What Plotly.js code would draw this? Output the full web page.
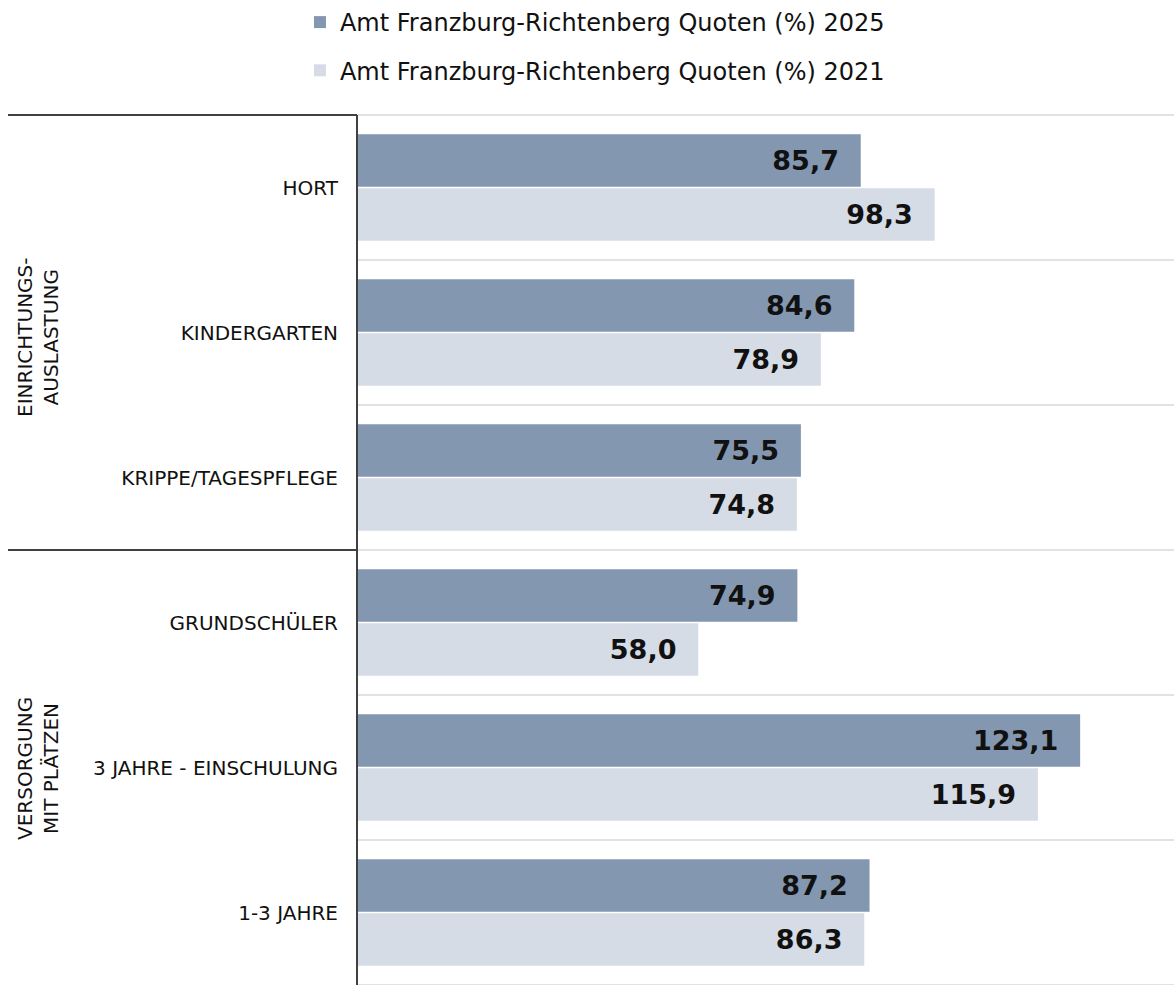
<!DOCTYPE html>
<html>
<head>
<meta charset="utf-8">
<script src="https://cdn.plot.ly/plotly-3.0.1.min.js"></script>
<style>html,body{margin:0;padding:0;background:#fff;}#chart{width:1174px;height:985px;}</style>
</head>
<body>
<div id="chart"></div>
<script>
const categories = ["HORT", "KINDERGARTEN", "KRIPPE/TAGESPFLEGE", "GRUNDSCHÜLER", "3 JAHRE - EINSCHULUNG", "1-3 JAHRE"];
const values2025 = [85.7, 84.6, 75.5, 74.9, 123.1, 87.2];
const values2021 = [98.3, 78.9, 74.8, 58.0, 115.9, 86.3];
const seriesNames = ["Amt Franzburg-Richtenberg Quoten (%) 2025", "Amt Franzburg-Richtenberg Quoten (%) 2021"];
const groupLabels = ["EINRICHTUNGS-<br>AUSLASTUNG", "VERSORGUNG<br>MIT PLÄTZEN"];

const FONT = "DejaVu Sans, sans-serif";
const LEFT = 358, W = 1174, TOP = 115, H = 985;
const plotW = W - LEFT, plotH = H - TOP;
const px = v => (v - LEFT) / plotW;
const py = v => 1 - (v - TOP) / plotH;

function barTrace(vals, name, color, grp) {
  return {
    type: "bar", orientation: "h",
    y: categories, x: vals, name: name, legendgroup: grp,
    marker: {color: color},
    texttemplate: "%{x:.1f}\u00a0\u00a0",
    textposition: "inside", insidetextanchor: "end",
    textfont: {family: FONT, size: 27, color: "#111", weight: "bold"},
    constraintext: "none",
    hoverinfo: "skip"
  };
}

const data = [
  barTrace(values2025, seriesNames[0], "#8497b0", "a"),
  barTrace(values2021, seriesNames[1], "#d6dce5", "b")
];

const shapes = [];
for (let k = 0; k <= categories.length; k++) {
  shapes.push({type: "line", xref: "paper", yref: "paper", x0: 0, x1: 1, y0: k / categories.length, y1: k / categories.length,
    line: {color: "#d9d9d9", width: 1.5}, layer: "below"});
}
shapes.push({type: "line", xref: "paper", yref: "paper", x0: px(8), x1: px(357), y0: 1, y1: 1, line: {color: "#404040", width: 2}});
shapes.push({type: "line", xref: "paper", yref: "paper", x0: px(8), x1: px(357), y0: 0.5, y1: 0.5, line: {color: "#404040", width: 2}});

const groupCentersY = [337, 769];
const annotations = groupLabels.map((t, i) => ({
  text: t, xref: "paper", yref: "paper", x: px(38), y: py(groupCentersY[i]),
  xanchor: "center", yanchor: "middle",
  showarrow: false, textangle: -90, align: "center",
  font: {family: FONT, size: 20, color: "#111"}
}));

const layout = {
  width: 1174, height: 985,
  margin: {l: LEFT, r: 0, t: TOP, b: 0, pad: 0, autoexpand: false},
  paper_bgcolor: "#fff", plot_bgcolor: "#fff",
  separators: ",.",
  barmode: "group", bargap: 0.255, bargroupgap: 0.03,
  font: {family: FONT, color: "#111"},
  showlegend: true,
  legend: {
    xref: "container", yref: "container", x: 0.2555, y: 1, xanchor: "left", yanchor: "top",
    orientation: "v", traceorder: "grouped", tracegroupgap: 14,
    font: {family: FONT, size: 24, color: "#111"},
    itemwidth: 30
  },
  xaxis: {range: [0, 139.1], showgrid: false, zeroline: false, showticklabels: false, showline: false, fixedrange: true},
  yaxis: {
    autorange: "reversed", type: "category", showgrid: false, zeroline: false,
    showline: true, linecolor: "#404040", linewidth: 2,
    ticks: "", ticklabelstandoff: 14,
    tickfont: {family: FONT, size: 20, color: "#111"}
  },
  shapes: shapes,
  annotations: annotations
};

Plotly.newPlot("chart", data, layout, {displayModeBar: false, staticPlot: true});
</script>
</body>
</html>
